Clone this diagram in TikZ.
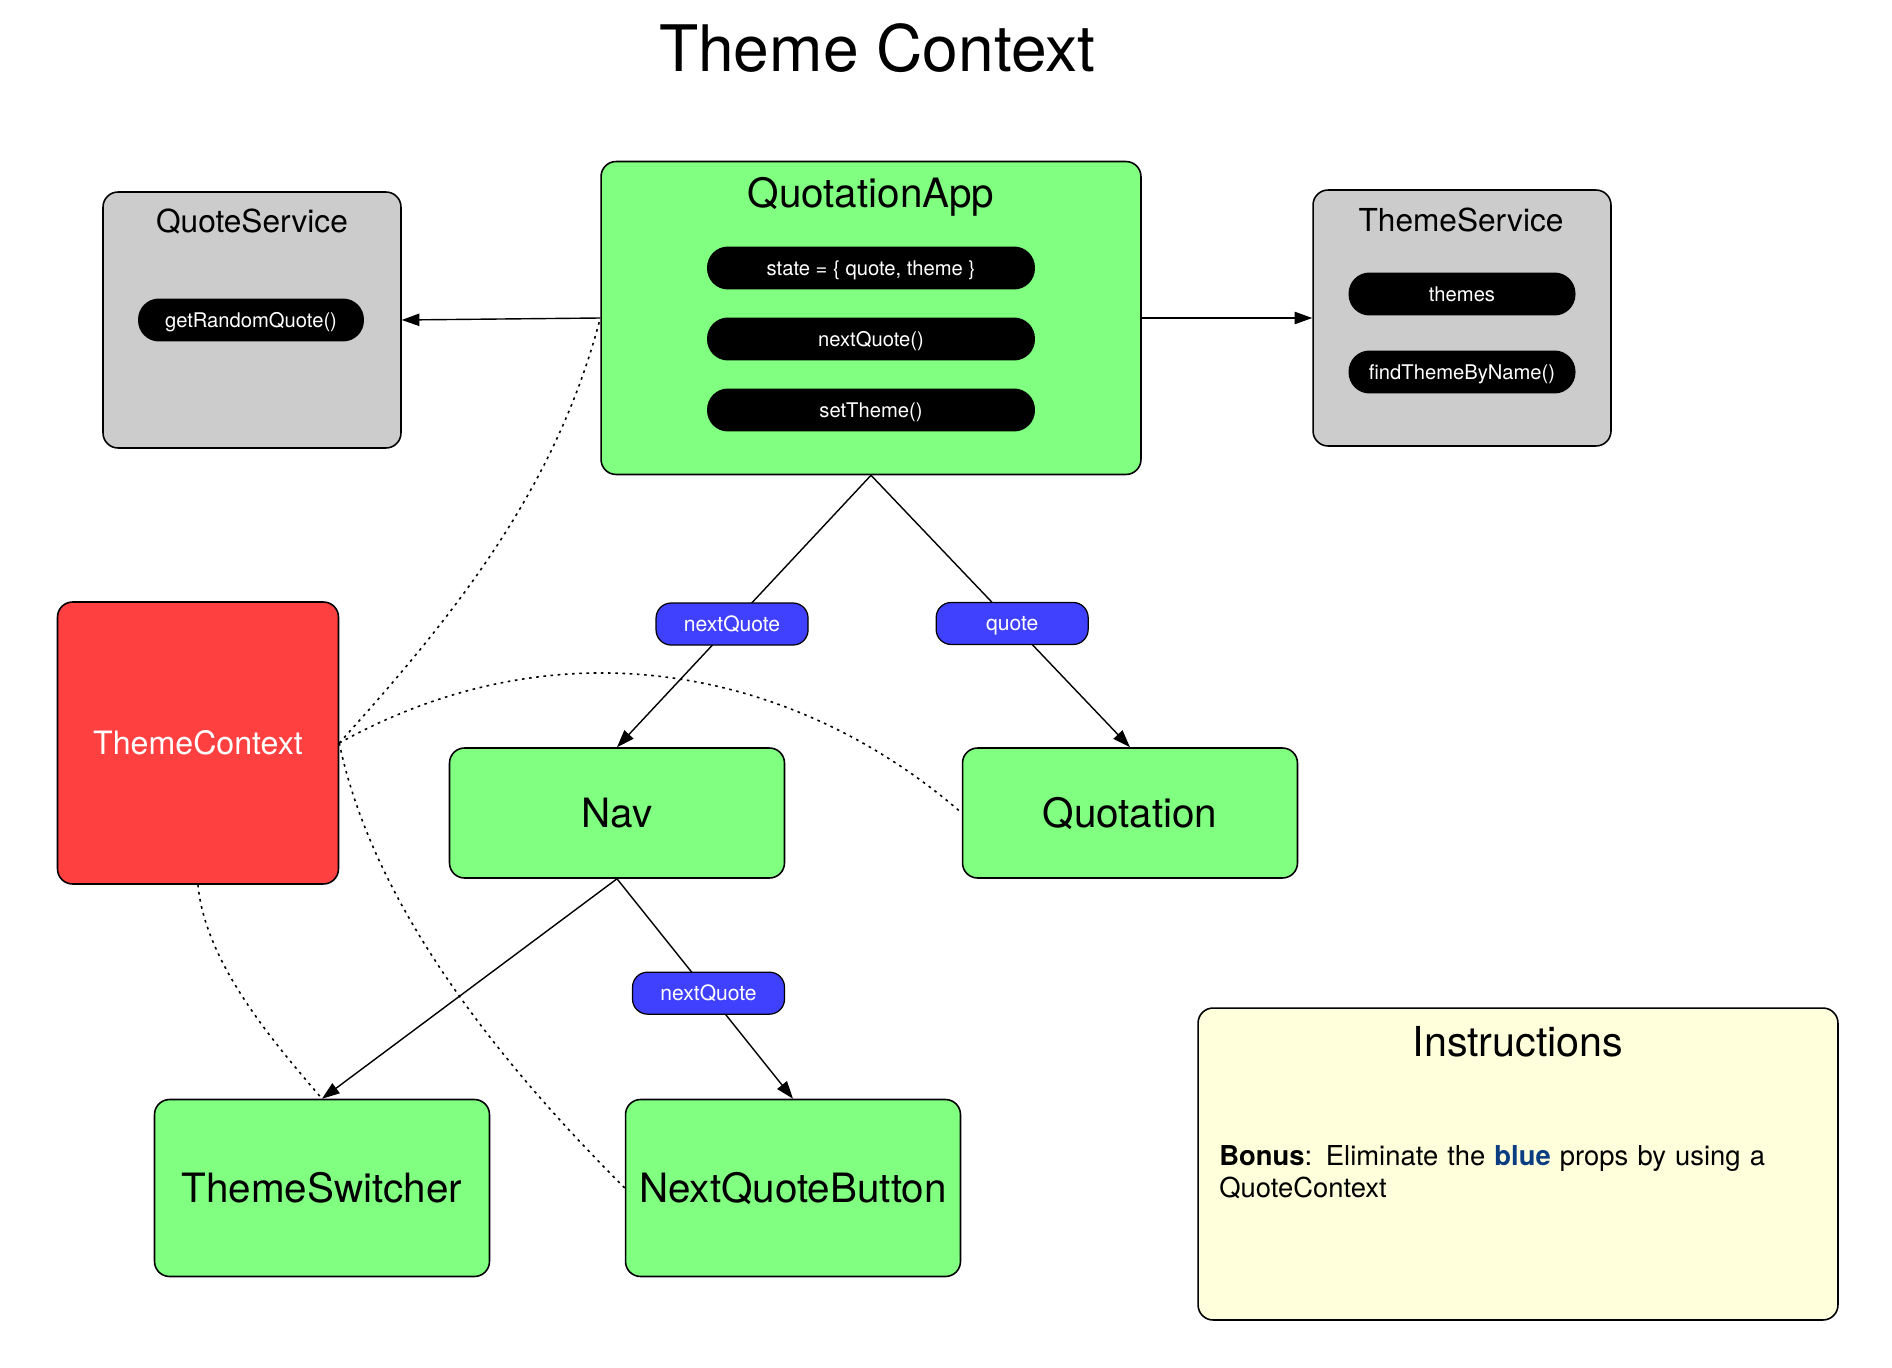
\documentclass[tikz,border=0pt]{standalone}
\usepackage{fontspec}
\setmainfont{TeX Gyre Heros}
\usepackage{xcolor}
\usetikzlibrary{arrows.meta,positioning,calc}
\definecolor{compgreen}{HTML}{80FF80}
\definecolor{servgrey} {HTML}{CCCCCC}
\definecolor{ctxred}   {HTML}{FF4040}
\definecolor{propblue} {HTML}{4040FF}
\definecolor{notepale} {HTML}{FFFFDB}
\definecolor{bonusblue}{HTML}{0B3D82}

\tikzset{
  box/.style={draw=black,line width=0.9pt,rounded corners=0.3cm,inner sep=0pt},
  comp/.style={box,fill=compgreen,minimum width=6.7cm,font=\fontsize{23}{27}\selectfont},
  service/.style={box,fill=servgrey,minimum width=5.96cm,minimum height=5.12cm},
  boxtitle/.style={font=\fontsize{18}{22}\selectfont},
  pill/.style={fill=black,text=white,rounded corners=0.42cm,minimum height=0.86cm,
               inner sep=0pt,text height=8.4pt,text depth=0.4pt,
               font=\fontsize{11.5}{13}\selectfont},
  prop/.style={draw=black,line width=0.7pt,fill=propblue,text=white,rounded corners=0.3cm,
               minimum width=3.04cm,minimum height=0.84cm,inner sep=0pt,
               text height=8.6pt,text depth=0.4pt,font=\fontsize{12}{14}\selectfont},
  link/.style={line width=0.8pt,-{Triangle[length=10pt,width=7pt]}},
  uses/.style={line width=0.9pt,dash pattern=on 1.5pt off 2.6pt},
}

\begin{document}
\begin{tikzpicture}[x=0.02cm,y=-0.02cm]
  \useasboundingbox (0,0) rectangle (1892,1368);

  \node (title) at (877,48) {\fontsize{36.5}{40}\selectfont Theme Context};

  % services
  \node[service] (quoteservice) at (252,320) {};
  \node[boxtitle] (qstitle) at (252,222) {QuoteService};
  \node[pill,minimum width=4.52cm] (getquote) at (251,320) {getRandomQuote()};

  \node[service] (themeservice) at (1462,318) {};
  \node[boxtitle] (tstitle) at (1461,220) {ThemeService};
  \node[pill,minimum width=4.54cm] (themes) at (1462,294) {themes};
  \node[pill,minimum width=4.54cm] (findtheme) at (1462,372) {findThemeByName()};

  % app with its state
  \node[box,fill=compgreen,minimum width=10.8cm,minimum height=6.26cm] (app) at (871,318) {};
  \node[font=\fontsize{23}{27}\selectfont] (apptitle) at (871,197) {QuotationApp};
  \node[pill,minimum width=6.56cm] (state) at (871,268) {state = \{ quote, theme \}};
  \node[pill,minimum width=6.56cm] (nextquote) at (871,339) {nextQuote()};
  \node[pill,minimum width=6.56cm] (settheme) at (871,410) {setTheme()};

  % context
  \node[box,fill=ctxred,text=white,minimum width=5.62cm,minimum height=5.64cm,
        font=\fontsize{18.3}{22}\selectfont] (themecontext) at (198,743) {ThemeContext};

  % components
  \node[comp,minimum height=2.6cm] (nav) at (617,813) {Nav};
  \node[comp,minimum height=2.6cm] (quotation) at (1130,813) {Quotation};
  \node[comp,minimum height=3.54cm] (switcher) at (322,1188) {ThemeSwitcher};
  \node[comp,minimum height=3.54cm] (nextbutton) at (793,1188) {NextQuoteButton};

  % instructions
  \node[box,fill=notepale,minimum width=12.8cm,minimum height=6.24cm] (instructions) at (1518,1164) {};
  \node[font=\fontsize{23.5}{27}\selectfont] (instrtitle) at (1518,1042) {Instructions};
  \node[anchor=north west,inner sep=0pt,text width=12cm,align=left,
        font=\fontsize{15.6}{18.3}\selectfont] (bonus) at (1219,1145)
    {\textbf{Bonus}: Eliminate the \textbf{\color{bonusblue}blue} props by using a QuoteContext};

  % props
  \draw[link] (app.west) -- (quoteservice.east);
  \draw[link] (app.east) -- (themeservice.west);
  \draw[link] (app.south) -- node[prop,pos=0.547] (prop1) {nextQuote} (nav.north);
  \draw[link] (app.south) -- node[prop,pos=0.545] (prop2) {quote} (quotation.north);
  \draw[link] (nav.south) -- (switcher.north);
  \draw[link] (nav.south) -- node[prop,pos=0.52] (prop3) {nextQuote} (nextbutton.north);

  % context consumers
  \draw[uses] (themecontext.east) .. controls (453,617) and (556,489) .. (app.west);
  \draw[uses] (themecontext.east) .. controls (565,618) and (800,672) .. (quotation.west);
  \draw[uses] (themecontext.east) .. controls (376,919) and (520,1083) .. (nextbutton.west);
  \draw[uses] (themecontext.south) .. controls (205,964) and (277,1046) .. (switcher.north);
\end{tikzpicture}
\end{document}
